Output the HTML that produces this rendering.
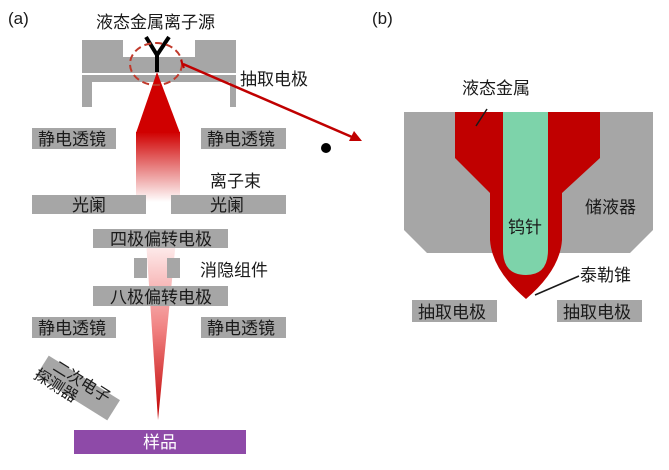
<!DOCTYPE html>
<html><head><meta charset="utf-8"><style>
html,body{margin:0;padding:0;background:#fff;}
svg text{font-family:"Liberation Sans","Noto Sans CJK SC",sans-serif;}
</style></head><body>
<svg width="669" height="465" viewBox="0 0 669 465" xmlns="http://www.w3.org/2000/svg">
<defs>
<linearGradient id="g1" x1="0" y1="0" x2="0" y2="1">
<stop offset="0" stop-color="#d00000"/><stop offset="1" stop-color="#ffffff"/>
</linearGradient>
<linearGradient id="g2" x1="0" y1="0" x2="0" y2="1">
<stop offset="0" stop-color="#fff4f4"/><stop offset="0.5" stop-color="#f08080"/><stop offset="1" stop-color="#c00000"/>
</linearGradient>
</defs>
<g fill="#1a1a1a" font-size="17">
<text x="8" y="24" font-size="17">(a)</text>
<text x="372" y="24" font-size="17">(b)</text>
<text x="96" y="28">液态金属离子源</text>
<text x="240" y="85">抽取电极</text>
<text x="210" y="187">离子束</text>
<text x="200" y="276">消隐组件</text>
</g>
<path d="M82,40 H123 V57 H195 V40 H236 V73 H82 Z" fill="#a6a6a6"/>
<path d="M82,75 H236 V107 H230 V82 H92 V107 H82 Z" fill="#a6a6a6"/>
<path d="M146,240 H176 L158,420 Z" fill="url(#g2)"/>
<rect x="136" y="132" width="44" height="70" fill="url(#g1)"/>
<path d="M157,72 L136,133 H180 Z" fill="#d00000"/>
<path d="M146,37 L157,55 L169,37 M157,55 V72" stroke="#000" stroke-width="4" fill="none"/>
<ellipse cx="156" cy="64" rx="26" ry="21" fill="none" stroke="#c0392b" stroke-width="2" stroke-dasharray="7,4"/>
<line x1="183" y1="64" x2="352" y2="137" stroke="#c00000" stroke-width="2.5"/>
<line x1="181" y1="60" x2="184" y2="68" stroke="#c00000" stroke-width="2"/>
<path d="M362,141 L349,141 L354,131 Z" fill="#c00000"/>
<circle cx="326" cy="148" r="5" fill="#000"/>
<g fill="#a6a6a6">
<rect x="32" y="128" width="84" height="21"/><rect x="201" y="128" width="85" height="21"/>
<rect x="32" y="195" width="114" height="19"/><rect x="171" y="195" width="115" height="19"/>
<rect x="93" y="229" width="135" height="19"/>
<rect x="134" y="258" width="13" height="20"/><rect x="167" y="258" width="13" height="20"/>
<rect x="93" y="286" width="135" height="20"/>
<rect x="32" y="317" width="84" height="21"/><rect x="201" y="317" width="85" height="21"/>
</g>
<g fill="#1a1a1a" font-size="17">
<text x="38" y="145">静电透镜</text><text x="207" y="145">静电透镜</text>
<text x="72" y="211">光阑</text><text x="210" y="211">光阑</text>
<text x="110" y="245">四极偏转电极</text>
<text x="110" y="303">八极偏转电极</text>
<text x="38" y="334">静电透镜</text><text x="207" y="334">静电透镜</text>
</g>
<g transform="translate(78,388) rotate(32)">
<rect x="-42" y="-12" width="84" height="24" fill="#a6a6a6"/>
<text x="-32" y="-2" font-size="16" fill="#1a1a1a">二次电子</text>
<text x="-44" y="15" font-size="16" fill="#1a1a1a">探测器</text>
</g>
<rect x="74" y="430" width="172" height="24" fill="#8e4aa8"/>
<text x="143" y="448" font-size="17" fill="#fff">样品</text>
<path d="M404,112 H653 V230 L630,253 H427 L404,230 Z" fill="#a6a6a6"/>
<path d="M455,112 H600 V158 L562,193 V240 Q560,270 526,299 Q492,270 490,240 V193 L455,158 Z" fill="#c00000"/>
<path d="M503,112 H548 V250 Q548,275 526,275 Q503,275 503,250 Z" fill="#7dd3aa"/>
<g fill="#1a1a1a" font-size="17">
<text x="462" y="94">液态金属</text>
<text x="585" y="213">储液器</text>
<text x="508" y="233">钨针</text>
<text x="580" y="281">泰勒锥</text>
</g>
<line x1="487" y1="109" x2="476" y2="126" stroke="#1a1a1a" stroke-width="1.5"/>
<line x1="535" y1="295" x2="579" y2="276" stroke="#1a1a1a" stroke-width="1.5"/>
<rect x="412" y="300" width="85" height="22" fill="#a6a6a6"/>
<rect x="557" y="300" width="85" height="22" fill="#a6a6a6"/>
<text x="418" y="318" font-size="17" fill="#1a1a1a">抽取电极</text>
<text x="563" y="318" font-size="17" fill="#1a1a1a">抽取电极</text>
</svg>
</body></html>
